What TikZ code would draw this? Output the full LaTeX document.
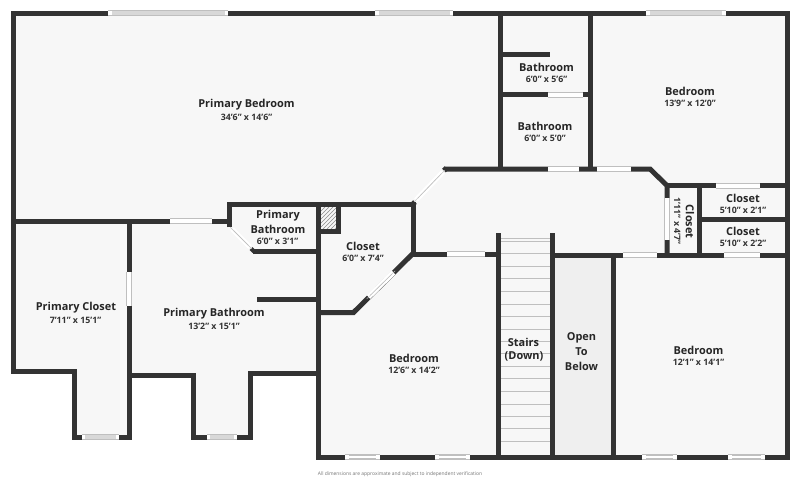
\documentclass[tikz,border=0pt]{standalone}
\usepackage{fontspec}
\setmainfont{Open Sans}
\usetikzlibrary{patterns}
\definecolor{wallgray}{HTML}{333333}
\definecolor{floorgray}{HTML}{F7F7F7}
\definecolor{voidgray}{HTML}{EFEFEF}
\definecolor{panegray}{HTML}{D8D8D8}
\tikzset{
  wall/.style={draw=wallgray, line width=3.75pt, line join=miter},
  opening/.style={draw=white, line width=3.9pt},
  openingedge/.style={draw=black!25, line width=0.3pt},
  pane/.style={draw=panegray, line width=2.6pt},
  tread/.style={draw=black!25, line width=0.75pt},
  roomname/.style={font=\fontsize{8.2}{8.2}\selectfont\bfseries, text=black!85, inner sep=0pt, yshift=-0.8pt},
  roomsize/.style={font=\fontsize{6.6}{6.6}\selectfont\bfseries, text=black!80, inner sep=0pt, yshift=-0.5pt},
}

\begin{document}
\begin{tikzpicture}[x=0.75pt,y=-0.75pt]
\useasboundingbox (0,0) rectangle (800,480);

\fill[floorgray] (13,13) -- (787,13) -- (787,457) -- (318,457) -- (318,374) -- (250,374) -- (250,437) -- (193,437) -- (193,375) -- (129,375) -- (129,437) -- (74,437) -- (74,371) -- (13,371) -- cycle;
\fill[voidgray] (552,255) rectangle (613,457);

% hatched shaft
\fill[pattern=north east lines, pattern color=black!45] (320,206) rectangle (336,229);

% stairs
\foreach \y in {238.5,241,253.5,266,278.5,291,304,316.5,329,341,353.5,366,378.5,391,404,416,428.5,441}
  \draw[tread] (500,\y) -- (550,\y);

% outer walls
\draw[wall] (318,457) -- (318,204);
\draw[wall] (13.5,221) -- (13.5,13);
\draw[wall] (11,13) -- (789.5,13);
\draw[wall] (787,13) -- (787,457);
\draw[wall] (789.5,457) -- (315.5,457);
\draw[wall] (13.5,221) -- (13.5,371.5) -- (74,371.5) -- (74,437) -- (129,437) -- (129,221);
\draw[wall] (129,375) -- (193,375) -- (193,437) -- (250.5,437) -- (250.5,373.5) -- (318,373.5);

% inner walls
\draw[wall] (11,221) -- (229,221);
\draw[wall] (229,227) -- (229,204) -- (413,204) -- (413,254) -- (497,254);
\draw[wall] (318,312.5) -- (353.5,312.5) -- (413,253.5);
\draw[wall] (318,231) -- (338,231) -- (338,204);
\draw[wall] (253,251.5) -- (318,251.5);
\draw[wall] (257,299.5) -- (318,299.5);
\draw[wall] (500.5,13) -- (500.5,169);
\draw[wall] (590,13) -- (590,169);
\draw[wall] (500.5,54) -- (550,54);
\draw[wall] (500.5,94.5) -- (590,94.5);
\draw[wall] (445,169) -- (650,169) -- (667,185.5) -- (667,254);
\draw[wall] (667,185.5) -- (787,185.5);
\draw[wall] (699.5,185.5) -- (699.5,255);
\draw[wall] (700,219.5) -- (787,219.5);
\draw[wall] (498,233) -- (498,457);
\draw[wall] (552,233) -- (552,457);
\draw[wall] (613,255) -- (613,457);
\draw[wall] (552,255) -- (787,255);

% door ends of the two short diagonals
\draw[wall] (446.5,168) -- (444,170.5);
\draw[wall] (415,202) -- (412.5,204.5);
\draw[wall, line width=3pt] (251,248.5) -- (254,251.5);

% openings in the walls
\foreach \xa/\xb/\y in {108/228/13,375/453/13,646/726/13,170/212/221,548/583/94.5,548/579/169,597/631/169,716/760/185.5,447/485/254,623/657/255,724/760/255,82/119/437,207/237/437,345/380/457,435/470/457,642/677/457,728/765/457}{
  \draw[opening] (\xa,\y) -- (\xb,\y);
  \draw[openingedge] (\xa,\y-2.4) -- (\xb,\y-2.4) (\xa,\y+2.4) -- (\xb,\y+2.4);
}
\foreach \x/\ya/\yb in {129/272/306,667/198/240}{
  \draw[opening] (\x,\ya) -- (\x,\yb);
  \draw[openingedge] (\x-2.4,\ya) -- (\x-2.4,\yb) (\x+2.4,\ya) -- (\x+2.4,\yb);
}
\foreach \xa/\ya/\xb/\yb/\dx/\dy in {393.5/272.5/368.5/297/1.3/1.3,443/172/416/200/1.3/1.3,232/229/250/247/1.3/-1.3}{
  \draw[opening] (\xa,\ya) -- (\xb,\yb);
  \draw[openingedge] ([xshift=\dx pt,yshift=\dy pt]\xa,\ya) -- ([xshift=\dx pt,yshift=\dy pt]\xb,\yb);
  \draw[openingedge] ([xshift=-\dx pt,yshift=-\dy pt]\xa,\ya) -- ([xshift=-\dx pt,yshift=-\dy pt]\xb,\yb);
}
\foreach \xa/\xb/\y in {112/225/13,379/450/13,650/722/13,85/116/437,210/234/437}
  \draw[pane] (\xa,\y) -- (\xb,\y);
\foreach \xa/\xb/\y in {349/376/457,439/466/457,646/673/457,732/761/457}
  \draw[openingedge, line width=0.5pt] (\xa,\y-1.3) -- (\xb,\y-1.3) (\xa,\y+1.3) -- (\xb,\y+1.3);

% rooms
\node[roomname] (pbedname) at (246.5,104) {Primary Bedroom};
\node[roomsize] (pbedsize) at (246.5,116.5) {34'6" x 14'6"};
\node[roomname] (bath1name) at (546.5,66) {Bathroom};
\node[roomsize] (bath1size) at (546.5,79) {6'0" x 5'6"};
\node[roomname] (bath2name) at (545,125.5) {Bathroom};
\node[roomsize] (bath2size) at (545,138) {6'0" x 5'0"};
\node[roomname] (bed1name) at (690,90) {Bedroom};
\node[roomsize] (bed1size) at (690,102.5) {13'9" x 12'0"};
\node[roomname] (clos1name) at (743,197) {Closet};
\node[roomsize] (clos1size) at (743,209.5) {5'10" x 2'1"};
\node[roomname] (clos2name) at (743,230.5) {Closet};
\node[roomsize] (clos2size) at (743,243) {5'10" x 2'2"};
\node[roomname, rotate=-90, yshift=0.8pt] (clos3name) at (689,220.5) {Closet};
\node[roomsize, rotate=-90, yshift=0.5pt] (clos3size) at (676.5,220.5) {1'11" x 4'7"};
\node[roomname] (pbathaname) at (278,214.5) {Primary};
\node[roomname] (pbathbname) at (278,228.5) {Bathroom};
\node[roomsize] (pbathasize) at (277.5,240.5) {6'0" x 3'1"};
\node[roomname] (clos4name) at (363,245.5) {Closet};
\node[roomsize] (clos4size) at (363,257.7) {6'0" x 7'4"};
\node[roomname] (pclosname) at (76,307) {Primary Closet};
\node[roomsize] (pclossize) at (75.5,319.5) {7'11" x 15'1"};
\node[roomname] (pbathname) at (214,313) {Primary Bathroom};
\node[roomsize] (pbathsize) at (214,325.5) {13'2" x 15'1"};
\node[roomname] (bed2name) at (414,357) {Bedroom};
\node[roomsize] (bed2size) at (414,369.5) {12'6" x 14'2"};
\node[roomname] (bed3name) at (698.5,349.5) {Bedroom};
\node[roomsize] (bed3size) at (698.5,362) {12'1" x 14'1"};
\node[roomname] (stairsa) at (523.5,341) {Stairs};
\node[roomname] (stairsb) at (524,355) {(Down)};
\node[roomname] (opena) at (581.5,337) {Open};
\node[roomname] (openb) at (581.5,351) {To};
\node[roomname] (openc) at (581.5,365) {Below};

\node[font=\fontsize{3.7}{3.7}\selectfont, text=black!55, inner sep=0pt] (footer) at (400,474.5) {All dimensions are approximate and subject to independent verification};

\end{tikzpicture}
\end{document}
